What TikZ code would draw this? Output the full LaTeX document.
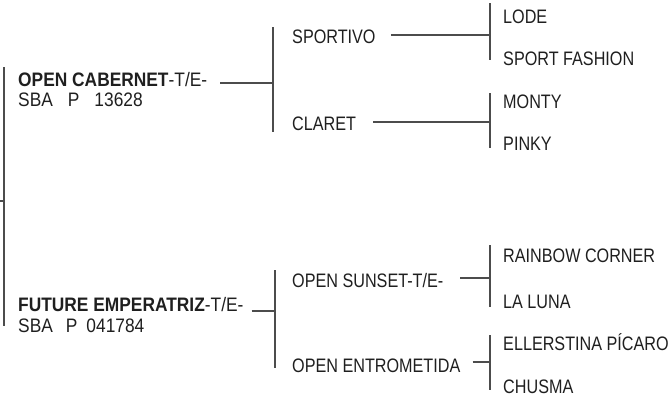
\documentclass[tikz,border=0pt]{standalone}
\usepackage{fontspec}
\setmainfont{Liberation Sans}[FakeStretch=0.83]
\newfontfamily\parentfont{Liberation Sans}[FakeStretch=0.89]
\begin{document}
\begin{tikzpicture}[x=1pt,y=-1pt,
    horse/.style={anchor=base west, inner sep=0pt, text=black!88,
        font=\fontsize{19.5}{21}\selectfont},
    parent/.style={horse, font=\fontsize{19.5}{21}\parentfont},
    reg/.style={parent, text height=10pt},
    bracket/.style={draw=black!70, line width=1.2pt}]
    \useasboundingbox (0,0) rectangle (671,399);

    % Parents
    \node[parent] (cab) at (18,86) {\textbf{OPEN CABERNET}-T/E-};
    \node[reg] (cabreg) at (18,106) {SBA\hspace{15pt}P\hspace{15pt}13628};
    \node[parent] (fut) at (18,311) {\textbf{FUTURE EMPERATRIZ}-T/E-};
    \node[reg] (futreg) at (18,332) {SBA\hspace{13pt}P\hspace{9pt}041784};

    % Grandparents
    \node[horse] (sportivo) at (292,43) {SPORTIVO};
    \node[horse] (claret) at (292,130) {CLARET};
    \node[horse] (sunset) at (292,287) {OPEN SUNSET-T/E-};
    \node[horse] (entro) at (292,372) {OPEN ENTROMETIDA};

    % Great-grandparents
    \node[horse] (lode) at (503,23) {LODE};
    \node[horse] (fashion) at (503,65) {SPORT FASHION};
    \node[horse] (monty) at (503,108) {MONTY};
    \node[horse] (pinky) at (503,150) {PINKY};
    \node[horse] (rainbow) at (503,262) {RAINBOW CORNER};
    \node[horse] (luna) at (503,308) {LA LUNA};
    \node[horse] (picaro) at (503,350) {ELLERSTINA PÍCARO};
    \node[horse] (chusma) at (503,393) {CHUSMA};

    % Forks
    \coordinate (rootstub) at (0,201);
    \coordinate (rootfork) at (4,201);
    \coordinate (cabfork) at (273,83);
    \coordinate (futfork) at (275,311);
    \coordinate (sportfork) at (490,35);
    \coordinate (claretfork) at (490,122);
    \coordinate (sunfork) at (490,278);
    \coordinate (entrofork) at (490,362);

    % Vertical bars
    \foreach \f/\a/\b in {rootfork/67/326, cabfork/27/132, futfork/270/368,
        sportfork/3/60, claretfork/93/148, sunfork/245/307, entrofork/335/390} {
        \draw[bracket] (\f |- 0,\a) -- (\f |- 0,\b);
    }

    % Stubs
    \draw[bracket] (rootstub) -- (rootfork);
    \draw[bracket] (cab.east |- cabfork) ++(13,0) -- (cabfork);
    \draw[bracket] (fut.east |- futfork) ++(8,0) -- (futfork);
    \draw[bracket] (sportivo.east |- sportfork) ++(15,0) -- (sportfork);
    \draw[bracket] (claret.east |- claretfork) ++(17,0) -- (claretfork);
    \draw[bracket] (sunset.east |- sunfork) ++(17,0) -- (sunfork);
    \draw[bracket] (entro.east |- entrofork) ++(12,0) -- (entrofork);

\end{tikzpicture}
\end{document}
